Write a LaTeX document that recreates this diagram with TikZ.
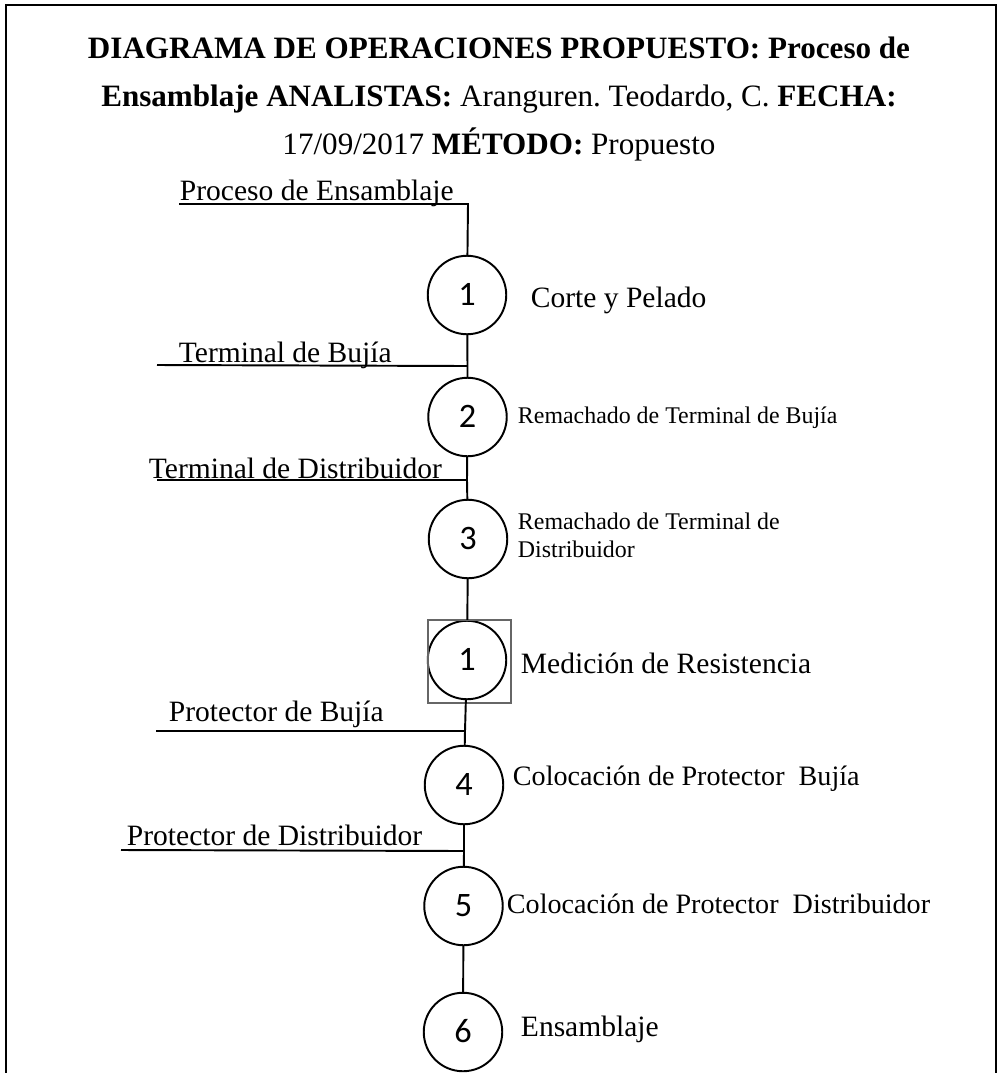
\documentclass[tikz,border=0pt]{standalone}
\usepackage{fontspec}
\setmainfont{Liberation Serif}
\newfontfamily\numfont{Carlito}
\frenchspacing
\begin{document}
\begin{tikzpicture}[x=0.02cm, y=-0.02cm, line width=1.1pt,
    opcirc/.style={circle, draw, inner sep=0pt, minimum size=1.57cm, text height=12.4pt, text depth=0pt, font=\numfont\fontsize{19.5}{20}\selectfont},
    lbl/.style={anchor=base west, inner sep=0pt, font=\fontsize{16.8}{20}\selectfont},
    midlbl/.style={lbl, font=\fontsize{16}{20}\selectfont},
    smalllbl/.style={anchor=base west, inner sep=0pt, align=left, font=\fontsize{13.6}{15.4}\selectfont}]
    \useasboundingbox (0,0) rectangle (998,1073);
    \draw[line width=1.5pt] (6,1073) -- (6,5) -- (996,5) -- (996,1073);
    \node[anchor=base, align=center, inner sep=0pt, font=\fontsize{17.7}{27.2}\selectfont] (title) at (499,154)
        {\textbf{DIAGRAMA DE OPERACIONES PROPUESTO: Proceso de}\\
         \textbf{Ensamblaje ANALISTAS:} Aranguren. Teodardo, C. \textbf{FECHA:}\\
         17/09/2017 \textbf{MÉTODO:} Propuesto};
    \node[opcirc] (op1) at (467,295) {1};
    \node[opcirc] (op2) at (467.5,417) {2};
    \node[opcirc] (op3) at (468,539) {3};
    \node[opcirc] (insp1) at (467,660) {1};
    \node[opcirc] (op4) at (464,785) {4};
    \node[opcirc] (op5) at (463.5,906) {5};
    \node[opcirc] (op6) at (463,1032) {6};
    \draw[gray!80!black, line width=0.6pt] (428,620) rectangle (511,703);
    \node[lbl] (in0) at (179,200) {Proceso de Ensamblaje};
    \node[lbl] (in1) at (178,362) {Terminal de Bujía};
    \node[lbl] (in2) at (148,478) {Terminal de Distribuidor};
    \node[lbl] (in3) at (168,721) {Protector de Bujía};
    \node[lbl] (in4) at (126,845) {Protector de Distribuidor};
    \coordinate (e0) at (179,204); \coordinate (j0) at (468,204);
    \coordinate (e1) at (157,365); \coordinate (j1) at (467.5,366);
    \coordinate (e2) at (157,480); \coordinate (j2) at (467,480);
    \coordinate (e3) at (156,731); \coordinate (j3) at (465,731);
    \coordinate (e4) at (121,850); \coordinate (j4) at (464,851);
    \draw (e0) -- (j0) -- (op1);
    \draw (op1) -- (j1) -- (op2); \draw (e1) -- (j1);
    \draw (op2) -- (j2) -- (op3); \draw (e2) -- (j2);
    \draw (op3) -- (insp1);
    \draw (insp1) -- (j3) -- (op4); \draw (e3) -- (j3);
    \draw (op4) -- (j4) -- (op5); \draw (e4) -- (j4);
    \draw (op5) -- (op6);
    \node[lbl] (t1) at (530,307) {Corte y Pelado};
    \node[smalllbl] (t2) at (517,423) {Remachado de Terminal de Bujía};
    \node[smalllbl] (t3) at (517,557) {Remachado de Terminal de\\Distribuidor};
    \node[lbl] (t4) at (520,673) {Medición de Resistencia};
    \node[midlbl] (t5) at (512,785) {Colocación de Protector~~Bujía};
    \node[midlbl] (t6) at (506,913) {Colocación de Protector~~Distribuidor};
    \node[lbl] (t7) at (520,1036) {Ensamblaje};
\end{tikzpicture}
\end{document}
